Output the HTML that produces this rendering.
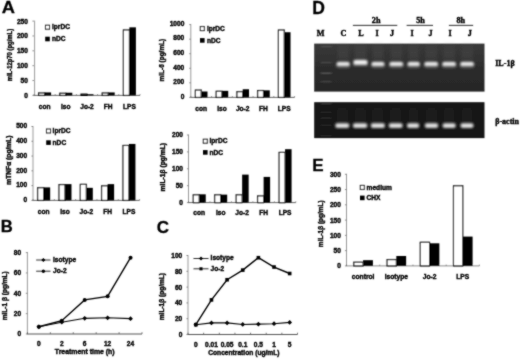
<!DOCTYPE html><html><head><meta charset="utf-8"><style>html,body{margin:0;padding:0;background:#fff}svg{display:block}</style></head><body>
<svg width="520" height="359" viewBox="0 0 520 359">
<defs><filter id="b1" x="-20%" y="-100%" width="140%" height="300%"><feGaussianBlur stdDeviation="1.0 0.8"/></filter><filter id="b3" x="-50%" y="-50%" width="200%" height="200%"><feGaussianBlur stdDeviation="1.6 3"/></filter><filter id="b2" x="-20%" y="-100%" width="140%" height="300%"><feGaussianBlur stdDeviation="0.8 0.6"/></filter><linearGradient id="g1" x1="0" y1="0" x2="0" y2="1"><stop offset="0" stop-color="#3a3a3a"/><stop offset="0.5" stop-color="#2c2c2c"/><stop offset="1" stop-color="#262626"/></linearGradient><filter id="soft" x="0" y="0" width="100%" height="100%" filterUnits="userSpaceOnUse"><feConvolveMatrix order="3" kernelMatrix="1 2 1 2 14 2 1 2 1" divisor="26" edgeMode="duplicate"/></filter></defs>
<rect width="520" height="359" fill="#fff"/>
<g filter="url(#soft)">
<text x="1.8" y="13.3" font-size="17" text-anchor="start" font-family='"Liberation Sans", sans-serif' font-weight="bold" stroke="#000" stroke-width="0.3" textLength="13.2" lengthAdjust="spacingAndGlyphs">A</text>
<text x="0.7" y="232.0" font-size="16.6" text-anchor="start" font-family='"Liberation Sans", sans-serif' font-weight="bold" stroke="#000" stroke-width="0.3">B</text>
<text x="156.8" y="232.6" font-size="17" text-anchor="start" font-family='"Liberation Sans", sans-serif' font-weight="bold" stroke="#000" stroke-width="0.3">C</text>
<text x="312.3" y="14.3" font-size="17.5" text-anchor="start" font-family='"Liberation Sans", sans-serif' font-weight="bold" stroke="#000" stroke-width="0.3">D</text>
<text x="312.3" y="170.6" font-size="17" text-anchor="start" font-family='"Liberation Sans", sans-serif' font-weight="bold" stroke="#000" stroke-width="0.3">E</text>
<line x1="34.6" y1="20.6" x2="34.6" y2="95.4" stroke="#808080" stroke-width="0.8"/>
<line x1="33.6" y1="95.4" x2="140.0" y2="95.4" stroke="#555" stroke-width="0.9"/>
<line x1="32.4" y1="95.4" x2="34.0" y2="95.4" stroke="#666" stroke-width="0.7"/>
<text x="27.9" y="97.8" font-size="6.6" text-anchor="end" font-family='"Liberation Sans", sans-serif' font-weight="bold" stroke="#000" stroke-width="0.38">0</text>
<line x1="32.4" y1="80.54" x2="34.0" y2="80.54" stroke="#666" stroke-width="0.7"/>
<text x="27.9" y="82.94" font-size="6.6" text-anchor="end" font-family='"Liberation Sans", sans-serif' font-weight="bold" stroke="#000" stroke-width="0.38">50</text>
<line x1="32.4" y1="65.68" x2="34.0" y2="65.68" stroke="#666" stroke-width="0.7"/>
<text x="27.9" y="68.08" font-size="6.6" text-anchor="end" font-family='"Liberation Sans", sans-serif' font-weight="bold" stroke="#000" stroke-width="0.38">100</text>
<line x1="32.4" y1="50.82" x2="34.0" y2="50.82" stroke="#666" stroke-width="0.7"/>
<text x="27.9" y="53.22" font-size="6.6" text-anchor="end" font-family='"Liberation Sans", sans-serif' font-weight="bold" stroke="#000" stroke-width="0.38">150</text>
<line x1="32.4" y1="35.96" x2="34.0" y2="35.96" stroke="#666" stroke-width="0.7"/>
<text x="27.9" y="38.36" font-size="6.6" text-anchor="end" font-family='"Liberation Sans", sans-serif' font-weight="bold" stroke="#000" stroke-width="0.38">200</text>
<line x1="32.4" y1="21.099999999999994" x2="34.0" y2="21.099999999999994" stroke="#666" stroke-width="0.7"/>
<text x="27.9" y="23.5" font-size="6.6" text-anchor="end" font-family='"Liberation Sans", sans-serif' font-weight="bold" stroke="#000" stroke-width="0.38">250</text>
<line x1="34.0" y1="95.4" x2="34.0" y2="94.10000000000001" stroke="#666" stroke-width="0.7"/>
<line x1="55.2" y1="95.4" x2="55.2" y2="94.10000000000001" stroke="#666" stroke-width="0.7"/>
<line x1="76.4" y1="95.4" x2="76.4" y2="94.10000000000001" stroke="#666" stroke-width="0.7"/>
<line x1="97.6" y1="95.4" x2="97.6" y2="94.10000000000001" stroke="#666" stroke-width="0.7"/>
<line x1="118.8" y1="95.4" x2="118.8" y2="94.10000000000001" stroke="#666" stroke-width="0.7"/>
<line x1="140.0" y1="95.4" x2="140.0" y2="94.10000000000001" stroke="#666" stroke-width="0.7"/>
<rect x="38.60" y="92.93" width="6.00" height="2.47" fill="#fff" stroke="#000" stroke-width="1.15"/>
<rect x="44.60" y="92.43" width="6.50" height="2.97" fill="#000"/>
<text x="44.6" y="108.9" font-size="6.6" text-anchor="middle" font-family='"Liberation Sans", sans-serif' font-weight="bold" stroke="#000" stroke-width="0.38">con</text>
<rect x="59.80" y="93.23" width="6.00" height="2.17" fill="#fff" stroke="#000" stroke-width="1.15"/>
<rect x="65.80" y="92.73" width="6.50" height="2.67" fill="#000"/>
<text x="65.8" y="108.9" font-size="6.6" text-anchor="middle" font-family='"Liberation Sans", sans-serif' font-weight="bold" stroke="#000" stroke-width="0.38">Iso</text>
<rect x="81.00" y="94.12" width="6.00" height="1.28" fill="#fff" stroke="#000" stroke-width="1.15"/>
<rect x="87.00" y="94.21" width="6.50" height="1.19" fill="#000"/>
<text x="87.0" y="108.9" font-size="6.6" text-anchor="middle" font-family='"Liberation Sans", sans-serif' font-weight="bold" stroke="#000" stroke-width="0.38">Jo-2</text>
<rect x="102.20" y="92.93" width="6.00" height="2.47" fill="#fff" stroke="#000" stroke-width="1.15"/>
<rect x="108.20" y="92.43" width="6.50" height="2.97" fill="#000"/>
<text x="108.2" y="108.9" font-size="6.6" text-anchor="middle" font-family='"Liberation Sans", sans-serif' font-weight="bold" stroke="#000" stroke-width="0.38">FH</text>
<rect x="123.40" y="29.92" width="6.00" height="65.48" fill="#fff" stroke="#000" stroke-width="1.15"/>
<rect x="129.40" y="27.34" width="6.50" height="68.06" fill="#000"/>
<text x="129.4" y="108.9" font-size="6.6" text-anchor="middle" font-family='"Liberation Sans", sans-serif' font-weight="bold" stroke="#000" stroke-width="0.38">LPS</text>
<rect x="45.5" y="25.2" width="4.0" height="4.0" fill="#fff" stroke="#000" stroke-width="1.0"/>
<text x="52.0" y="29.4" font-size="6.6" text-anchor="start" font-family='"Liberation Sans", sans-serif' font-weight="bold" stroke="#000" stroke-width="0.38">lprDC</text>
<rect x="45.2" y="36.7" width="4.6" height="4.6" fill="#000"/>
<text x="52.0" y="41.2" font-size="6.6" text-anchor="start" font-family='"Liberation Sans", sans-serif' font-weight="bold" stroke="#000" stroke-width="0.38">nDC</text>
<text transform="translate(11.9,55.1) rotate(-90)" font-size="6.6" text-anchor="middle" font-family='"Liberation Sans", sans-serif' font-weight="bold" stroke="#000" stroke-width="0.38" textLength="52.4" lengthAdjust="spacingAndGlyphs">mIL-12p70 (pg/mL)</text>
<line x1="190.8" y1="24.1" x2="190.8" y2="97.4" stroke="#808080" stroke-width="0.8"/>
<line x1="190.4" y1="97.4" x2="294.6" y2="97.4" stroke="#555" stroke-width="0.9"/>
<line x1="189.20000000000002" y1="97.4" x2="190.8" y2="97.4" stroke="#666" stroke-width="0.7"/>
<text x="184.3" y="98.7" font-size="6.6" text-anchor="end" font-family='"Liberation Sans", sans-serif' font-weight="bold" stroke="#000" stroke-width="0.38">0</text>
<line x1="189.20000000000002" y1="82.84" x2="190.8" y2="82.84" stroke="#666" stroke-width="0.7"/>
<text x="184.3" y="84.14" font-size="6.6" text-anchor="end" font-family='"Liberation Sans", sans-serif' font-weight="bold" stroke="#000" stroke-width="0.38">200</text>
<line x1="189.20000000000002" y1="68.28" x2="190.8" y2="68.28" stroke="#666" stroke-width="0.7"/>
<text x="184.3" y="69.58" font-size="6.6" text-anchor="end" font-family='"Liberation Sans", sans-serif' font-weight="bold" stroke="#000" stroke-width="0.38">400</text>
<line x1="189.20000000000002" y1="53.71999999999999" x2="190.8" y2="53.71999999999999" stroke="#666" stroke-width="0.7"/>
<text x="184.3" y="55.02" font-size="6.6" text-anchor="end" font-family='"Liberation Sans", sans-serif' font-weight="bold" stroke="#000" stroke-width="0.38">600</text>
<line x1="189.20000000000002" y1="39.15999999999999" x2="190.8" y2="39.15999999999999" stroke="#666" stroke-width="0.7"/>
<text x="184.3" y="40.46" font-size="6.6" text-anchor="end" font-family='"Liberation Sans", sans-serif' font-weight="bold" stroke="#000" stroke-width="0.38">800</text>
<line x1="189.20000000000002" y1="24.599999999999994" x2="190.8" y2="24.599999999999994" stroke="#666" stroke-width="0.7"/>
<text x="184.3" y="25.9" font-size="6.6" text-anchor="end" font-family='"Liberation Sans", sans-serif' font-weight="bold" stroke="#000" stroke-width="0.38">1000</text>
<line x1="190.8" y1="97.4" x2="190.8" y2="96.10000000000001" stroke="#666" stroke-width="0.7"/>
<line x1="211.56" y1="97.4" x2="211.56" y2="96.10000000000001" stroke="#666" stroke-width="0.7"/>
<line x1="232.32000000000002" y1="97.4" x2="232.32000000000002" y2="96.10000000000001" stroke="#666" stroke-width="0.7"/>
<line x1="253.08" y1="97.4" x2="253.08" y2="96.10000000000001" stroke="#666" stroke-width="0.7"/>
<line x1="273.84000000000003" y1="97.4" x2="273.84000000000003" y2="96.10000000000001" stroke="#666" stroke-width="0.7"/>
<line x1="294.6" y1="97.4" x2="294.6" y2="96.10000000000001" stroke="#666" stroke-width="0.7"/>
<rect x="195.38" y="90.04" width="5.80" height="7.36" fill="#fff" stroke="#000" stroke-width="1.15"/>
<rect x="201.18" y="91.50" width="6.30" height="5.90" fill="#000"/>
<text x="201.18" y="110.8" font-size="6.6" text-anchor="middle" font-family='"Liberation Sans", sans-serif' font-weight="bold" stroke="#000" stroke-width="0.38">con</text>
<rect x="216.14" y="91.28" width="5.80" height="6.12" fill="#fff" stroke="#000" stroke-width="1.15"/>
<rect x="221.94" y="90.85" width="6.30" height="6.55" fill="#000"/>
<text x="221.94" y="110.8" font-size="6.6" text-anchor="middle" font-family='"Liberation Sans", sans-serif' font-weight="bold" stroke="#000" stroke-width="0.38">Iso</text>
<rect x="236.90" y="91.71" width="5.80" height="5.69" fill="#fff" stroke="#000" stroke-width="1.15"/>
<rect x="242.70" y="89.25" width="6.30" height="8.15" fill="#000"/>
<text x="242.7" y="110.8" font-size="6.6" text-anchor="middle" font-family='"Liberation Sans", sans-serif' font-weight="bold" stroke="#000" stroke-width="0.38">Jo-2</text>
<rect x="257.66" y="90.55" width="5.80" height="6.85" fill="#fff" stroke="#000" stroke-width="1.15"/>
<rect x="263.46" y="90.34" width="6.30" height="7.06" fill="#000"/>
<text x="263.46" y="110.8" font-size="6.6" text-anchor="middle" font-family='"Liberation Sans", sans-serif' font-weight="bold" stroke="#000" stroke-width="0.38">FH</text>
<rect x="278.42" y="29.98" width="5.80" height="67.42" fill="#fff" stroke="#000" stroke-width="1.15"/>
<rect x="284.22" y="32.24" width="6.30" height="65.16" fill="#000"/>
<text x="284.22" y="110.8" font-size="6.6" text-anchor="middle" font-family='"Liberation Sans", sans-serif' font-weight="bold" stroke="#000" stroke-width="0.38">LPS</text>
<rect x="200.3" y="26.6" width="4.0" height="4.0" fill="#fff" stroke="#000" stroke-width="1.0"/>
<text x="206.9" y="30.8" font-size="6.6" text-anchor="start" font-family='"Liberation Sans", sans-serif' font-weight="bold" stroke="#000" stroke-width="0.38">lprDC</text>
<rect x="200.0" y="38.1" width="4.6" height="4.6" fill="#000"/>
<text x="206.9" y="42.6" font-size="6.6" text-anchor="start" font-family='"Liberation Sans", sans-serif' font-weight="bold" stroke="#000" stroke-width="0.38">nDC</text>
<text transform="translate(163.8,60.1) rotate(-90)" font-size="6.6" text-anchor="middle" font-family='"Liberation Sans", sans-serif' font-weight="bold" stroke="#000" stroke-width="0.38" textLength="42.6" lengthAdjust="spacingAndGlyphs">mIL-6 (pg/mL)</text>
<line x1="33.0" y1="126.0" x2="33.0" y2="200.4" stroke="#808080" stroke-width="0.8"/>
<line x1="32.6" y1="200.4" x2="139.6" y2="200.4" stroke="#555" stroke-width="0.9"/>
<line x1="31.4" y1="200.4" x2="33.0" y2="200.4" stroke="#666" stroke-width="0.7"/>
<text x="27.2" y="202.1" font-size="6.6" text-anchor="end" font-family='"Liberation Sans", sans-serif' font-weight="bold" stroke="#000" stroke-width="0.38">0</text>
<line x1="31.4" y1="185.62" x2="33.0" y2="185.62" stroke="#666" stroke-width="0.7"/>
<text x="27.2" y="187.32" font-size="6.6" text-anchor="end" font-family='"Liberation Sans", sans-serif' font-weight="bold" stroke="#000" stroke-width="0.38">100</text>
<line x1="31.4" y1="170.84" x2="33.0" y2="170.84" stroke="#666" stroke-width="0.7"/>
<text x="27.2" y="172.54" font-size="6.6" text-anchor="end" font-family='"Liberation Sans", sans-serif' font-weight="bold" stroke="#000" stroke-width="0.38">200</text>
<line x1="31.4" y1="156.06" x2="33.0" y2="156.06" stroke="#666" stroke-width="0.7"/>
<text x="27.2" y="157.76" font-size="6.6" text-anchor="end" font-family='"Liberation Sans", sans-serif' font-weight="bold" stroke="#000" stroke-width="0.38">300</text>
<line x1="31.4" y1="141.28" x2="33.0" y2="141.28" stroke="#666" stroke-width="0.7"/>
<text x="27.2" y="142.98" font-size="6.6" text-anchor="end" font-family='"Liberation Sans", sans-serif' font-weight="bold" stroke="#000" stroke-width="0.38">400</text>
<line x1="31.4" y1="126.5" x2="33.0" y2="126.5" stroke="#666" stroke-width="0.7"/>
<text x="27.2" y="128.2" font-size="6.6" text-anchor="end" font-family='"Liberation Sans", sans-serif' font-weight="bold" stroke="#000" stroke-width="0.38">500</text>
<line x1="33.0" y1="200.4" x2="33.0" y2="199.1" stroke="#666" stroke-width="0.7"/>
<line x1="54.32" y1="200.4" x2="54.32" y2="199.1" stroke="#666" stroke-width="0.7"/>
<line x1="75.64" y1="200.4" x2="75.64" y2="199.1" stroke="#666" stroke-width="0.7"/>
<line x1="96.96000000000001" y1="200.4" x2="96.96000000000001" y2="199.1" stroke="#666" stroke-width="0.7"/>
<line x1="118.28" y1="200.4" x2="118.28" y2="199.1" stroke="#666" stroke-width="0.7"/>
<line x1="139.6" y1="200.4" x2="139.6" y2="199.1" stroke="#666" stroke-width="0.7"/>
<rect x="37.66" y="187.75" width="6.00" height="12.65" fill="#fff" stroke="#000" stroke-width="1.15"/>
<rect x="43.66" y="187.39" width="6.50" height="13.01" fill="#000"/>
<text x="43.66" y="213.6" font-size="6.6" text-anchor="middle" font-family='"Liberation Sans", sans-serif' font-weight="bold" stroke="#000" stroke-width="0.38">con</text>
<rect x="58.98" y="184.64" width="6.00" height="15.76" fill="#fff" stroke="#000" stroke-width="1.15"/>
<rect x="64.98" y="184.14" width="6.50" height="16.26" fill="#000"/>
<text x="64.98" y="213.6" font-size="6.6" text-anchor="middle" font-family='"Liberation Sans", sans-serif' font-weight="bold" stroke="#000" stroke-width="0.38">Iso</text>
<rect x="80.30" y="184.35" width="6.00" height="16.05" fill="#fff" stroke="#000" stroke-width="1.15"/>
<rect x="86.30" y="187.84" width="6.50" height="12.56" fill="#000"/>
<text x="86.3" y="213.6" font-size="6.6" text-anchor="middle" font-family='"Liberation Sans", sans-serif' font-weight="bold" stroke="#000" stroke-width="0.38">Jo-2</text>
<rect x="101.62" y="185.82" width="6.00" height="14.58" fill="#fff" stroke="#000" stroke-width="1.15"/>
<rect x="107.62" y="184.14" width="6.50" height="16.26" fill="#000"/>
<text x="107.62" y="213.6" font-size="6.6" text-anchor="middle" font-family='"Liberation Sans", sans-serif' font-weight="bold" stroke="#000" stroke-width="0.38">FH</text>
<rect x="122.94" y="145.47" width="6.00" height="54.93" fill="#fff" stroke="#000" stroke-width="1.15"/>
<rect x="128.94" y="143.94" width="6.50" height="56.46" fill="#000"/>
<text x="128.94" y="213.6" font-size="6.6" text-anchor="middle" font-family='"Liberation Sans", sans-serif' font-weight="bold" stroke="#000" stroke-width="0.38">LPS</text>
<rect x="46.5" y="129.0" width="4.0" height="4.0" fill="#fff" stroke="#000" stroke-width="1.0"/>
<text x="52.6" y="133.2" font-size="6.6" text-anchor="start" font-family='"Liberation Sans", sans-serif' font-weight="bold" stroke="#000" stroke-width="0.38">lprDC</text>
<rect x="46.2" y="140.3" width="4.6" height="4.6" fill="#000"/>
<text x="52.6" y="144.8" font-size="6.6" text-anchor="start" font-family='"Liberation Sans", sans-serif' font-weight="bold" stroke="#000" stroke-width="0.38">nDC</text>
<text transform="translate(10.5,160.1) rotate(-90)" font-size="6.6" text-anchor="middle" font-family='"Liberation Sans", sans-serif' font-weight="bold" stroke="#000" stroke-width="0.38" textLength="49.2" lengthAdjust="spacingAndGlyphs">mTNF&#945; (pg/mL)</text>
<line x1="188.5" y1="134.5" x2="188.5" y2="202.6" stroke="#808080" stroke-width="0.8"/>
<line x1="188.1" y1="202.6" x2="295.8" y2="202.6" stroke="#555" stroke-width="0.9"/>
<line x1="186.9" y1="202.6" x2="188.5" y2="202.6" stroke="#666" stroke-width="0.7"/>
<text x="183.0" y="204.6" font-size="6.6" text-anchor="end" font-family='"Liberation Sans", sans-serif' font-weight="bold" stroke="#000" stroke-width="0.38">0</text>
<line x1="186.9" y1="185.7" x2="188.5" y2="185.7" stroke="#666" stroke-width="0.7"/>
<text x="183.0" y="187.7" font-size="6.6" text-anchor="end" font-family='"Liberation Sans", sans-serif' font-weight="bold" stroke="#000" stroke-width="0.38">50</text>
<line x1="186.9" y1="168.8" x2="188.5" y2="168.8" stroke="#666" stroke-width="0.7"/>
<text x="183.0" y="170.8" font-size="6.6" text-anchor="end" font-family='"Liberation Sans", sans-serif' font-weight="bold" stroke="#000" stroke-width="0.38">100</text>
<line x1="186.9" y1="151.9" x2="188.5" y2="151.9" stroke="#666" stroke-width="0.7"/>
<text x="183.0" y="153.9" font-size="6.6" text-anchor="end" font-family='"Liberation Sans", sans-serif' font-weight="bold" stroke="#000" stroke-width="0.38">150</text>
<line x1="186.9" y1="135.0" x2="188.5" y2="135.0" stroke="#666" stroke-width="0.7"/>
<text x="183.0" y="137.0" font-size="6.6" text-anchor="end" font-family='"Liberation Sans", sans-serif' font-weight="bold" stroke="#000" stroke-width="0.38">200</text>
<line x1="188.5" y1="202.6" x2="188.5" y2="201.29999999999998" stroke="#666" stroke-width="0.7"/>
<line x1="209.96" y1="202.6" x2="209.96" y2="201.29999999999998" stroke="#666" stroke-width="0.7"/>
<line x1="231.42000000000002" y1="202.6" x2="231.42000000000002" y2="201.29999999999998" stroke="#666" stroke-width="0.7"/>
<line x1="252.88" y1="202.6" x2="252.88" y2="201.29999999999998" stroke="#666" stroke-width="0.7"/>
<line x1="274.34000000000003" y1="202.6" x2="274.34000000000003" y2="201.29999999999998" stroke="#666" stroke-width="0.7"/>
<line x1="295.8" y1="202.6" x2="295.8" y2="201.29999999999998" stroke="#666" stroke-width="0.7"/>
<rect x="193.23" y="194.82" width="6.00" height="7.78" fill="#fff" stroke="#000" stroke-width="1.15"/>
<rect x="199.23" y="194.32" width="6.50" height="8.28" fill="#000"/>
<text x="199.23" y="214.6" font-size="6.6" text-anchor="middle" font-family='"Liberation Sans", sans-serif' font-weight="bold" stroke="#000" stroke-width="0.38">con</text>
<rect x="214.69" y="194.82" width="6.00" height="7.78" fill="#fff" stroke="#000" stroke-width="1.15"/>
<rect x="220.69" y="194.62" width="6.50" height="7.98" fill="#000"/>
<text x="220.69" y="214.6" font-size="6.6" text-anchor="middle" font-family='"Liberation Sans", sans-serif' font-weight="bold" stroke="#000" stroke-width="0.38">Iso</text>
<rect x="236.15" y="194.82" width="6.00" height="7.78" fill="#fff" stroke="#000" stroke-width="1.15"/>
<rect x="242.15" y="174.61" width="6.50" height="27.99" fill="#000"/>
<text x="242.15" y="214.6" font-size="6.6" text-anchor="middle" font-family='"Liberation Sans", sans-serif' font-weight="bold" stroke="#000" stroke-width="0.38">Jo-2</text>
<rect x="257.61" y="195.90" width="6.00" height="6.70" fill="#fff" stroke="#000" stroke-width="1.15"/>
<rect x="263.61" y="176.91" width="6.50" height="25.69" fill="#000"/>
<text x="263.61" y="214.6" font-size="6.6" text-anchor="middle" font-family='"Liberation Sans", sans-serif' font-weight="bold" stroke="#000" stroke-width="0.38">FH</text>
<rect x="279.07" y="152.40" width="6.00" height="50.20" fill="#fff" stroke="#000" stroke-width="1.15"/>
<rect x="285.07" y="149.20" width="6.50" height="53.40" fill="#000"/>
<text x="285.07" y="214.6" font-size="6.6" text-anchor="middle" font-family='"Liberation Sans", sans-serif' font-weight="bold" stroke="#000" stroke-width="0.38">LPS</text>
<rect x="203.3" y="139.20000000000002" width="4.0" height="4.0" fill="#fff" stroke="#000" stroke-width="1.0"/>
<text x="209.5" y="143.4" font-size="6.6" text-anchor="start" font-family='"Liberation Sans", sans-serif' font-weight="bold" stroke="#000" stroke-width="0.38">lprDC</text>
<rect x="203.0" y="150.1" width="4.6" height="4.6" fill="#000"/>
<text x="209.5" y="154.6" font-size="6.6" text-anchor="start" font-family='"Liberation Sans", sans-serif' font-weight="bold" stroke="#000" stroke-width="0.38">nDC</text>
<text transform="translate(165.3,167.2) rotate(-90)" font-size="6.6" text-anchor="middle" font-family='"Liberation Sans", sans-serif' font-weight="bold" stroke="#000" stroke-width="0.38" textLength="48.4" lengthAdjust="spacingAndGlyphs">mIL-1&#946; (pg/mL)</text>
<line x1="346.5" y1="173.8" x2="346.5" y2="265.9" stroke="#808080" stroke-width="0.8"/>
<line x1="346.1" y1="265.9" x2="479.4" y2="265.9" stroke="#808080" stroke-width="0.9"/>
<line x1="344.9" y1="265.9" x2="346.5" y2="265.9" stroke="#666" stroke-width="0.7"/>
<text x="340.9" y="268.3" font-size="6.6" text-anchor="end" font-family='"Liberation Sans", sans-serif' font-weight="bold" stroke="#000" stroke-width="0.38">0</text>
<line x1="344.9" y1="250.63333333333333" x2="346.5" y2="250.63333333333333" stroke="#666" stroke-width="0.7"/>
<text x="340.9" y="253.03" font-size="6.6" text-anchor="end" font-family='"Liberation Sans", sans-serif' font-weight="bold" stroke="#000" stroke-width="0.38">50</text>
<line x1="344.9" y1="235.36666666666665" x2="346.5" y2="235.36666666666665" stroke="#666" stroke-width="0.7"/>
<text x="340.9" y="237.77" font-size="6.6" text-anchor="end" font-family='"Liberation Sans", sans-serif' font-weight="bold" stroke="#000" stroke-width="0.38">100</text>
<line x1="344.9" y1="220.1" x2="346.5" y2="220.1" stroke="#666" stroke-width="0.7"/>
<text x="340.9" y="222.5" font-size="6.6" text-anchor="end" font-family='"Liberation Sans", sans-serif' font-weight="bold" stroke="#000" stroke-width="0.38">150</text>
<line x1="344.9" y1="204.83333333333331" x2="346.5" y2="204.83333333333331" stroke="#666" stroke-width="0.7"/>
<text x="340.9" y="207.23" font-size="6.6" text-anchor="end" font-family='"Liberation Sans", sans-serif' font-weight="bold" stroke="#000" stroke-width="0.38">200</text>
<line x1="344.9" y1="189.56666666666666" x2="346.5" y2="189.56666666666666" stroke="#666" stroke-width="0.7"/>
<text x="340.9" y="191.97" font-size="6.6" text-anchor="end" font-family='"Liberation Sans", sans-serif' font-weight="bold" stroke="#000" stroke-width="0.38">250</text>
<line x1="344.9" y1="174.3" x2="346.5" y2="174.3" stroke="#666" stroke-width="0.7"/>
<text x="340.9" y="176.7" font-size="6.6" text-anchor="end" font-family='"Liberation Sans", sans-serif' font-weight="bold" stroke="#000" stroke-width="0.38">300</text>
<line x1="346.5" y1="265.9" x2="346.5" y2="264.59999999999997" stroke="#666" stroke-width="0.7"/>
<line x1="379.725" y1="265.9" x2="379.725" y2="264.59999999999997" stroke="#666" stroke-width="0.7"/>
<line x1="412.95" y1="265.9" x2="412.95" y2="264.59999999999997" stroke="#666" stroke-width="0.7"/>
<line x1="446.17499999999995" y1="265.9" x2="446.17499999999995" y2="264.59999999999997" stroke="#666" stroke-width="0.7"/>
<line x1="479.4" y1="265.9" x2="479.4" y2="264.59999999999997" stroke="#666" stroke-width="0.7"/>
<rect x="353.81" y="262.19" width="9.30" height="3.71" fill="#fff" stroke="#000" stroke-width="1.15"/>
<rect x="363.11" y="260.19" width="9.80" height="5.71" fill="#000"/>
<text x="363.11" y="278.6" font-size="6.7" text-anchor="middle" font-family='"Liberation Sans", sans-serif' font-weight="bold" stroke="#000" stroke-width="0.38">control</text>
<rect x="387.04" y="259.62" width="9.30" height="6.28" fill="#fff" stroke="#000" stroke-width="1.15"/>
<rect x="396.34" y="255.98" width="9.80" height="9.92" fill="#000"/>
<text x="396.34" y="278.6" font-size="6.7" text-anchor="middle" font-family='"Liberation Sans", sans-serif' font-weight="bold" stroke="#000" stroke-width="0.38">isotype</text>
<rect x="420.26" y="242.28" width="9.30" height="23.62" fill="#fff" stroke="#000" stroke-width="1.15"/>
<rect x="429.56" y="243.31" width="9.80" height="22.59" fill="#000"/>
<text x="429.56" y="278.6" font-size="6.7" text-anchor="middle" font-family='"Liberation Sans", sans-serif' font-weight="bold" stroke="#000" stroke-width="0.38">Jo-2</text>
<rect x="453.49" y="185.79" width="9.30" height="80.11" fill="#fff" stroke="#000" stroke-width="1.15"/>
<rect x="462.79" y="236.59" width="9.80" height="29.31" fill="#000"/>
<text x="462.79" y="278.6" font-size="6.7" text-anchor="middle" font-family='"Liberation Sans", sans-serif' font-weight="bold" stroke="#000" stroke-width="0.38">LPS</text>
<rect x="360.29999999999995" y="185.4" width="4.0" height="4.0" fill="#fff" stroke="#000" stroke-width="1.0"/>
<text x="366.6" y="189.6" font-size="6.6" text-anchor="start" font-family='"Liberation Sans", sans-serif' font-weight="bold" stroke="#000" stroke-width="0.38">medium</text>
<rect x="360.0" y="195.6" width="4.6" height="4.6" fill="#000"/>
<text x="366.6" y="200.1" font-size="6.6" text-anchor="start" font-family='"Liberation Sans", sans-serif' font-weight="bold" stroke="#000" stroke-width="0.38">CHX</text>
<text transform="translate(322.8,223.7) rotate(-90)" font-size="6.6" text-anchor="middle" font-family='"Liberation Sans", sans-serif' font-weight="bold" stroke="#000" stroke-width="0.38" textLength="46.9" lengthAdjust="spacingAndGlyphs">mIL-1&#946; (pg/mL)</text>
<line x1="27.4" y1="252.1" x2="27.4" y2="334.0" stroke="#808080" stroke-width="0.8"/>
<line x1="27.0" y1="334.0" x2="142" y2="334.0" stroke="#444" stroke-width="0.9"/>
<line x1="25.799999999999997" y1="334.0" x2="27.4" y2="334.0" stroke="#666" stroke-width="0.7"/>
<text x="21.2" y="336.4" font-size="6.6" text-anchor="end" font-family='"Liberation Sans", sans-serif' font-weight="bold" stroke="#000" stroke-width="0.38">0</text>
<line x1="25.799999999999997" y1="313.65" x2="27.4" y2="313.65" stroke="#666" stroke-width="0.7"/>
<text x="21.2" y="316.05" font-size="6.6" text-anchor="end" font-family='"Liberation Sans", sans-serif' font-weight="bold" stroke="#000" stroke-width="0.38">20</text>
<line x1="25.799999999999997" y1="293.3" x2="27.4" y2="293.3" stroke="#666" stroke-width="0.7"/>
<text x="21.2" y="295.7" font-size="6.6" text-anchor="end" font-family='"Liberation Sans", sans-serif' font-weight="bold" stroke="#000" stroke-width="0.38">40</text>
<line x1="25.799999999999997" y1="272.95" x2="27.4" y2="272.95" stroke="#666" stroke-width="0.7"/>
<text x="21.2" y="275.35" font-size="6.6" text-anchor="end" font-family='"Liberation Sans", sans-serif' font-weight="bold" stroke="#000" stroke-width="0.38">60</text>
<line x1="25.799999999999997" y1="252.6" x2="27.4" y2="252.6" stroke="#666" stroke-width="0.7"/>
<text x="21.2" y="255.0" font-size="6.6" text-anchor="end" font-family='"Liberation Sans", sans-serif' font-weight="bold" stroke="#000" stroke-width="0.38">80</text>
<line x1="27.4" y1="334.0" x2="27.4" y2="332.2" stroke="#555" stroke-width="0.8"/>
<line x1="50.31999999999999" y1="334.0" x2="50.31999999999999" y2="332.2" stroke="#555" stroke-width="0.8"/>
<line x1="73.24" y1="334.0" x2="73.24" y2="332.2" stroke="#555" stroke-width="0.8"/>
<line x1="96.16" y1="334.0" x2="96.16" y2="332.2" stroke="#555" stroke-width="0.8"/>
<line x1="119.07999999999998" y1="334.0" x2="119.07999999999998" y2="332.2" stroke="#555" stroke-width="0.8"/>
<line x1="142.0" y1="334.0" x2="142.0" y2="332.2" stroke="#555" stroke-width="0.8"/>
<text x="38.86" y="345.8" font-size="6.6" text-anchor="middle" font-family='"Liberation Sans", sans-serif' font-weight="bold" stroke="#000" stroke-width="0.38">0</text>
<text x="61.78" y="345.8" font-size="6.6" text-anchor="middle" font-family='"Liberation Sans", sans-serif' font-weight="bold" stroke="#000" stroke-width="0.38">2</text>
<text x="84.7" y="345.8" font-size="6.6" text-anchor="middle" font-family='"Liberation Sans", sans-serif' font-weight="bold" stroke="#000" stroke-width="0.38">6</text>
<text x="107.62" y="345.8" font-size="6.6" text-anchor="middle" font-family='"Liberation Sans", sans-serif' font-weight="bold" stroke="#000" stroke-width="0.38">12</text>
<text x="130.54" y="345.8" font-size="6.6" text-anchor="middle" font-family='"Liberation Sans", sans-serif' font-weight="bold" stroke="#000" stroke-width="0.38">24</text>
<polyline points="38.86,326.78 61.78,322.20 84.70,318.33 107.62,317.82 130.54,318.64" fill="none" stroke="#000" stroke-width="1.1"/>
<polyline points="38.86,326.78 61.78,320.67 84.70,299.91 107.62,296.35 130.54,257.69" fill="none" stroke="#000" stroke-width="1.4"/>
<path d="M36.51,326.78 L38.86,324.43 L41.21,326.78 L38.86,329.13Z" fill="#000"/>
<path d="M59.43,322.20 L61.78,319.85 L64.13,322.20 L61.78,324.55Z" fill="#000"/>
<path d="M82.35,318.33 L84.70,315.98 L87.05,318.33 L84.70,320.68Z" fill="#000"/>
<path d="M105.27,317.82 L107.62,315.47 L109.97,317.82 L107.62,320.17Z" fill="#000"/>
<path d="M128.19,318.64 L130.54,316.29 L132.89,318.64 L130.54,320.99Z" fill="#000"/>
<circle cx="38.86" cy="326.78" r="2.00" fill="#000"/>
<circle cx="61.78" cy="320.67" r="2.00" fill="#000"/>
<circle cx="84.70" cy="299.91" r="2.00" fill="#000"/>
<circle cx="107.62" cy="296.35" r="2.00" fill="#000"/>
<circle cx="130.54" cy="257.69" r="2.00" fill="#000"/>
<text x="54.8" y="354.3" font-size="6.6" text-anchor="start" font-family='"Liberation Sans", sans-serif' font-weight="bold" stroke="#000" stroke-width="0.38" textLength="59.8" lengthAdjust="spacingAndGlyphs">Treatment time  (h)</text>
<text transform="translate(7.0,295.8) rotate(-90)" font-size="6.6" text-anchor="middle" font-family='"Liberation Sans", sans-serif' font-weight="bold" stroke="#000" stroke-width="0.38" textLength="48.9" lengthAdjust="spacingAndGlyphs">mIL-1 &#946; (pg/mL)</text>
<line x1="36.2" y1="260.0" x2="50.5" y2="260.0" stroke="#222" stroke-width="0.95"/>
<path d="M41.25,260.00 L43.35,257.90 L45.45,260.00 L43.35,262.10Z" fill="#000"/>
<line x1="36.2" y1="271.2" x2="50.5" y2="271.2" stroke="#222" stroke-width="0.95"/>
<circle cx="43.35" cy="271.20" r="1.70" fill="#000"/>
<text x="53.0" y="261.8" font-size="6.6" text-anchor="start" font-family='"Liberation Sans", sans-serif' font-weight="bold" stroke="#000" stroke-width="0.38">Isotype</text>
<text x="53.0" y="272.8" font-size="6.6" text-anchor="start" font-family='"Liberation Sans", sans-serif' font-weight="bold" stroke="#000" stroke-width="0.38">Jo-2</text>
<line x1="188.0" y1="255.0" x2="188.0" y2="334.5" stroke="#808080" stroke-width="0.8"/>
<line x1="187.6" y1="334.5" x2="297.5" y2="334.5" stroke="#444" stroke-width="0.9"/>
<line x1="186.4" y1="334.5" x2="188.0" y2="334.5" stroke="#666" stroke-width="0.7"/>
<text x="182.3" y="336.9" font-size="6.6" text-anchor="end" font-family='"Liberation Sans", sans-serif' font-weight="bold" stroke="#000" stroke-width="0.38">0</text>
<line x1="186.4" y1="318.7" x2="188.0" y2="318.7" stroke="#666" stroke-width="0.7"/>
<text x="182.3" y="321.1" font-size="6.6" text-anchor="end" font-family='"Liberation Sans", sans-serif' font-weight="bold" stroke="#000" stroke-width="0.38">20</text>
<line x1="186.4" y1="302.9" x2="188.0" y2="302.9" stroke="#666" stroke-width="0.7"/>
<text x="182.3" y="305.3" font-size="6.6" text-anchor="end" font-family='"Liberation Sans", sans-serif' font-weight="bold" stroke="#000" stroke-width="0.38">40</text>
<line x1="186.4" y1="287.1" x2="188.0" y2="287.1" stroke="#666" stroke-width="0.7"/>
<text x="182.3" y="289.5" font-size="6.6" text-anchor="end" font-family='"Liberation Sans", sans-serif' font-weight="bold" stroke="#000" stroke-width="0.38">60</text>
<line x1="186.4" y1="271.3" x2="188.0" y2="271.3" stroke="#666" stroke-width="0.7"/>
<text x="182.3" y="273.7" font-size="6.6" text-anchor="end" font-family='"Liberation Sans", sans-serif' font-weight="bold" stroke="#000" stroke-width="0.38">80</text>
<line x1="186.4" y1="255.5" x2="188.0" y2="255.5" stroke="#666" stroke-width="0.7"/>
<text x="182.3" y="257.9" font-size="6.6" text-anchor="end" font-family='"Liberation Sans", sans-serif' font-weight="bold" stroke="#000" stroke-width="0.38">100</text>
<line x1="188.0" y1="334.5" x2="188.0" y2="332.7" stroke="#555" stroke-width="0.8"/>
<line x1="203.64285714285714" y1="334.5" x2="203.64285714285714" y2="332.7" stroke="#555" stroke-width="0.8"/>
<line x1="219.28571428571428" y1="334.5" x2="219.28571428571428" y2="332.7" stroke="#555" stroke-width="0.8"/>
<line x1="234.92857142857144" y1="334.5" x2="234.92857142857144" y2="332.7" stroke="#555" stroke-width="0.8"/>
<line x1="250.57142857142856" y1="334.5" x2="250.57142857142856" y2="332.7" stroke="#555" stroke-width="0.8"/>
<line x1="266.2142857142857" y1="334.5" x2="266.2142857142857" y2="332.7" stroke="#555" stroke-width="0.8"/>
<line x1="281.8571428571429" y1="334.5" x2="281.8571428571429" y2="332.7" stroke="#555" stroke-width="0.8"/>
<line x1="297.5" y1="334.5" x2="297.5" y2="332.7" stroke="#555" stroke-width="0.8"/>
<text x="195.82" y="346.8" font-size="6.6" text-anchor="middle" font-family='"Liberation Sans", sans-serif' font-weight="bold" stroke="#000" stroke-width="0.38">0</text>
<text x="211.46" y="346.8" font-size="6.6" text-anchor="middle" font-family='"Liberation Sans", sans-serif' font-weight="bold" stroke="#000" stroke-width="0.38">0.01</text>
<text x="227.11" y="346.8" font-size="6.6" text-anchor="middle" font-family='"Liberation Sans", sans-serif' font-weight="bold" stroke="#000" stroke-width="0.38">0.05</text>
<text x="242.75" y="346.8" font-size="6.6" text-anchor="middle" font-family='"Liberation Sans", sans-serif' font-weight="bold" stroke="#000" stroke-width="0.38">0.1</text>
<text x="258.39" y="346.8" font-size="6.6" text-anchor="middle" font-family='"Liberation Sans", sans-serif' font-weight="bold" stroke="#000" stroke-width="0.38">0.5</text>
<text x="274.04" y="346.8" font-size="6.6" text-anchor="middle" font-family='"Liberation Sans", sans-serif' font-weight="bold" stroke="#000" stroke-width="0.38">1</text>
<text x="289.68" y="346.8" font-size="6.6" text-anchor="middle" font-family='"Liberation Sans", sans-serif' font-weight="bold" stroke="#000" stroke-width="0.38">5</text>
<polyline points="195.82,324.70 211.46,322.89 227.11,322.89 242.75,324.47 258.39,324.15 274.04,323.68 289.68,322.41" fill="none" stroke="#000" stroke-width="1.1"/>
<polyline points="195.82,324.70 211.46,299.90 227.11,279.75 242.75,270.12 258.39,257.71 274.04,267.03 289.68,273.51" fill="none" stroke="#000" stroke-width="1.4"/>
<path d="M193.47,324.70 L195.82,322.35 L198.17,324.70 L195.82,327.05Z" fill="#000"/>
<path d="M209.11,322.89 L211.46,320.54 L213.81,322.89 L211.46,325.24Z" fill="#000"/>
<path d="M224.76,322.89 L227.11,320.54 L229.46,322.89 L227.11,325.24Z" fill="#000"/>
<path d="M240.40,324.47 L242.75,322.12 L245.10,324.47 L242.75,326.82Z" fill="#000"/>
<path d="M256.04,324.15 L258.39,321.80 L260.74,324.15 L258.39,326.50Z" fill="#000"/>
<path d="M271.69,323.68 L274.04,321.33 L276.39,323.68 L274.04,326.03Z" fill="#000"/>
<path d="M287.33,322.41 L289.68,320.06 L292.03,322.41 L289.68,324.76Z" fill="#000"/>
<rect x="194.02" y="322.90" width="3.60" height="3.60" fill="#000"/>
<rect x="209.66" y="298.10" width="3.60" height="3.60" fill="#000"/>
<rect x="225.31" y="277.95" width="3.60" height="3.60" fill="#000"/>
<rect x="240.95" y="268.31" width="3.60" height="3.60" fill="#000"/>
<rect x="256.59" y="255.91" width="3.60" height="3.60" fill="#000"/>
<rect x="272.24" y="265.23" width="3.60" height="3.60" fill="#000"/>
<rect x="287.88" y="271.71" width="3.60" height="3.60" fill="#000"/>
<text x="208.2" y="355.4" font-size="6.6" text-anchor="start" font-family='"Liberation Sans", sans-serif' font-weight="bold" stroke="#000" stroke-width="0.38" textLength="71.4" lengthAdjust="spacingAndGlyphs">Concentration (ug/mL)</text>
<text transform="translate(164.0,296.6) rotate(-90)" font-size="6.6" text-anchor="middle" font-family='"Liberation Sans", sans-serif' font-weight="bold" stroke="#000" stroke-width="0.38" textLength="47.2" lengthAdjust="spacingAndGlyphs">mIL-1&#946; (pg/mL)</text>
<line x1="193.5" y1="258.5" x2="208.5" y2="258.5" stroke="#222" stroke-width="0.95"/>
<path d="M198.90,258.50 L201.00,256.40 L203.10,258.50 L201.00,260.60Z" fill="#000"/>
<line x1="193.5" y1="268.8" x2="208.5" y2="268.8" stroke="#222" stroke-width="0.95"/>
<rect x="199.47" y="267.27" width="3.06" height="3.06" fill="#000"/>
<text x="210.6" y="260.2" font-size="6.6" text-anchor="start" font-family='"Liberation Sans", sans-serif' font-weight="bold" stroke="#000" stroke-width="0.38">Isotype</text>
<text x="210.6" y="270.8" font-size="6.6" text-anchor="start" font-family='"Liberation Sans", sans-serif' font-weight="bold" stroke="#000" stroke-width="0.38">Jo-2</text>
<rect x="314.2" y="43.6" width="170.3" height="48.0" fill="url(#g1)"/>
<rect x="314.2" y="102.2" width="170.3" height="35.9" fill="#141414"/>
<text x="320.7" y="35.6" font-size="8.2" text-anchor="middle" font-family='"Liberation Serif", serif' font-weight="bold" stroke="#000" stroke-width="0.38">M</text>
<text x="343.4" y="35.6" font-size="8.2" text-anchor="middle" font-family='"Liberation Serif", serif' font-weight="bold" stroke="#000" stroke-width="0.38">C</text>
<text x="361" y="35.6" font-size="8.2" text-anchor="middle" font-family='"Liberation Serif", serif' font-weight="bold" stroke="#000" stroke-width="0.38">L</text>
<text x="377.2" y="35.6" font-size="8.2" text-anchor="middle" font-family='"Liberation Serif", serif' font-weight="bold" stroke="#000" stroke-width="0.38">I</text>
<text x="392" y="35.6" font-size="8.2" text-anchor="middle" font-family='"Liberation Serif", serif' font-weight="bold" stroke="#000" stroke-width="0.38">J</text>
<text x="412.1" y="35.6" font-size="8.2" text-anchor="middle" font-family='"Liberation Serif", serif' font-weight="bold" stroke="#000" stroke-width="0.38">I</text>
<text x="430.5" y="35.6" font-size="8.2" text-anchor="middle" font-family='"Liberation Serif", serif' font-weight="bold" stroke="#000" stroke-width="0.38">J</text>
<text x="450.2" y="35.6" font-size="8.2" text-anchor="middle" font-family='"Liberation Serif", serif' font-weight="bold" stroke="#000" stroke-width="0.38">I</text>
<text x="469.9" y="35.6" font-size="8.2" text-anchor="middle" font-family='"Liberation Serif", serif' font-weight="bold" stroke="#000" stroke-width="0.38">J</text>
<text x="376.2" y="23.4" font-size="8.2" text-anchor="middle" font-family='"Liberation Serif", serif' font-weight="bold" stroke="#000" stroke-width="0.38">2h</text>
<text x="420.6" y="23.4" font-size="8.2" text-anchor="middle" font-family='"Liberation Serif", serif' font-weight="bold" stroke="#000" stroke-width="0.38">5h</text>
<text x="460.8" y="23.4" font-size="8.2" text-anchor="middle" font-family='"Liberation Serif", serif' font-weight="bold" stroke="#000" stroke-width="0.38">8h</text>
<line x1="352.9" y1="25.4" x2="397.3" y2="25.4" stroke="#222" stroke-width="0.9"/>
<line x1="406.6" y1="25.4" x2="433.0" y2="25.4" stroke="#222" stroke-width="0.9"/>
<line x1="448.9" y1="25.4" x2="473.2" y2="25.4" stroke="#222" stroke-width="0.9"/>
<text x="495.2" y="65.7" font-size="8.2" text-anchor="start" font-family='"Liberation Serif", serif' font-weight="bold" stroke="#000" stroke-width="0.38" textLength="19.5" lengthAdjust="spacingAndGlyphs">IL-1&#946;</text>
<text x="495.2" y="123.6" font-size="8.2" text-anchor="start" font-family='"Liberation Serif", serif' font-weight="bold" stroke="#000" stroke-width="0.38" textLength="23.8" lengthAdjust="spacingAndGlyphs">&#946;-actin</text>
<g filter="url(#b3)">
<rect x="338" y="47" width="10.3" height="14" fill="#555" opacity="0.3"/>
<rect x="354.9" y="47" width="11.2" height="14" fill="#555" opacity="0.3"/>
<rect x="372.9" y="47" width="10.1" height="14" fill="#555" opacity="0.3"/>
<rect x="390.9" y="47" width="10.8" height="14" fill="#555" opacity="0.3"/>
<rect x="409" y="47" width="9.4" height="14" fill="#555" opacity="0.3"/>
<rect x="425.8" y="47" width="10.8" height="14" fill="#555" opacity="0.3"/>
<rect x="443.7" y="47" width="10.8" height="14" fill="#555" opacity="0.3"/>
<rect x="461.7" y="47" width="10.8" height="14" fill="#555" opacity="0.3"/>
</g>
<g filter="url(#b1)">
<rect x="336.1" y="61.80" width="14.1" height="5.6" rx="2.6" fill="#7c7c7c"/>
<rect x="337.0" y="62.30" width="12.3" height="3.0" rx="1.5" fill="#f6f6f6"/>
<rect x="353.0" y="59.70" width="15.0" height="6.3999999999999995" rx="2.6" fill="#7c7c7c"/>
<rect x="353.9" y="60.20" width="13.2" height="3.8" rx="1.5" fill="#f6f6f6"/>
<rect x="371.0" y="61.80" width="13.9" height="5.6" rx="2.6" fill="#7c7c7c"/>
<rect x="371.9" y="62.30" width="12.1" height="3.0" rx="1.5" fill="#f6f6f6"/>
<rect x="389.0" y="61.80" width="14.6" height="5.6" rx="2.6" fill="#7c7c7c"/>
<rect x="389.9" y="62.30" width="12.8" height="3.0" rx="1.5" fill="#f6f6f6"/>
<rect x="407.1" y="61.80" width="13.2" height="5.6" rx="2.6" fill="#7c7c7c"/>
<rect x="408.0" y="62.30" width="11.4" height="3.0" rx="1.5" fill="#f6f6f6"/>
<rect x="423.9" y="61.80" width="14.6" height="5.6" rx="2.6" fill="#7c7c7c"/>
<rect x="424.8" y="62.30" width="12.8" height="3.0" rx="1.5" fill="#f6f6f6"/>
<rect x="441.8" y="61.80" width="14.6" height="5.6" rx="2.6" fill="#7c7c7c"/>
<rect x="442.7" y="62.30" width="12.8" height="3.0" rx="1.5" fill="#f6f6f6"/>
<rect x="459.8" y="61.80" width="14.6" height="5.6" rx="2.6" fill="#7c7c7c"/>
<rect x="460.7" y="62.30" width="12.8" height="3.0" rx="1.5" fill="#f6f6f6"/>
</g>
<g filter="url(#b2)">
<rect x="320.8" y="45.7" width="10.8" height="1.8" fill="#9a9a9a" opacity="0.17"/>
<rect x="320.8" y="61.7" width="10.8" height="1.8" fill="#9a9a9a" opacity="0.2"/>
<rect x="320.8" y="72.3" width="10.8" height="1.8" fill="#9a9a9a" opacity="0.3"/>
<rect x="320.8" y="80.69999999999999" width="10.8" height="1.8" fill="#9a9a9a" opacity="0.18"/>
</g>
<g filter="url(#b3)">
<rect x="336.9" y="108" width="10.8" height="14" fill="#444" opacity="0.22"/>
<rect x="354.5" y="108" width="11.2" height="14" fill="#444" opacity="0.22"/>
<rect x="372.4" y="108" width="10.9" height="14" fill="#444" opacity="0.22"/>
<rect x="390.4" y="108" width="10.6" height="14" fill="#444" opacity="0.22"/>
<rect x="408.6" y="108" width="9.0" height="14" fill="#444" opacity="0.22"/>
<rect x="426.4" y="108" width="10.2" height="14" fill="#444" opacity="0.22"/>
<rect x="444.2" y="108" width="9.9" height="14" fill="#444" opacity="0.22"/>
<rect x="462.1" y="108" width="9.8" height="14" fill="#444" opacity="0.22"/>
</g>
<g filter="url(#b1)">
<rect x="335.0" y="122.40" width="14.6" height="5.8" rx="2.6" fill="#707070"/>
<rect x="335.9" y="124.30" width="12.8" height="3.0" rx="1.5" fill="#f2f2f2"/>
<rect x="352.6" y="122.40" width="15.0" height="5.8" rx="2.6" fill="#707070"/>
<rect x="353.5" y="124.30" width="13.2" height="3.0" rx="1.5" fill="#f2f2f2"/>
<rect x="370.5" y="122.40" width="14.7" height="5.8" rx="2.6" fill="#707070"/>
<rect x="371.4" y="124.30" width="12.9" height="3.0" rx="1.5" fill="#f2f2f2"/>
<rect x="388.5" y="122.40" width="14.4" height="5.8" rx="2.6" fill="#707070"/>
<rect x="389.4" y="124.30" width="12.6" height="3.0" rx="1.5" fill="#f2f2f2"/>
<rect x="406.7" y="122.40" width="12.8" height="5.8" rx="2.6" fill="#707070"/>
<rect x="407.6" y="124.30" width="11.0" height="3.0" rx="1.5" fill="#f2f2f2"/>
<rect x="424.5" y="122.40" width="14.0" height="5.8" rx="2.6" fill="#707070"/>
<rect x="425.4" y="124.30" width="12.2" height="3.0" rx="1.5" fill="#f2f2f2"/>
<rect x="442.3" y="122.40" width="13.7" height="5.8" rx="2.6" fill="#707070"/>
<rect x="443.2" y="124.30" width="11.9" height="3.0" rx="1.5" fill="#f2f2f2"/>
<rect x="460.2" y="122.40" width="13.6" height="5.8" rx="2.6" fill="#707070"/>
<rect x="461.1" y="124.30" width="11.8" height="3.0" rx="1.5" fill="#f2f2f2"/>
</g>
<g filter="url(#b2)">
<rect x="320.8" y="102.89999999999999" width="10.8" height="1.8" fill="#9a9a9a" opacity="0.2"/>
<rect x="320.8" y="111.39999999999999" width="10.8" height="1.8" fill="#9a9a9a" opacity="0.14"/>
<rect x="320.8" y="117.3" width="10.8" height="1.8" fill="#9a9a9a" opacity="0.14"/>
<rect x="320.8" y="124.5" width="10.8" height="1.8" fill="#9a9a9a" opacity="0.13"/>
<rect x="320.8" y="134.7" width="10.8" height="1.8" fill="#9a9a9a" opacity="0.14"/>
</g>
</g>
</svg></body></html>
